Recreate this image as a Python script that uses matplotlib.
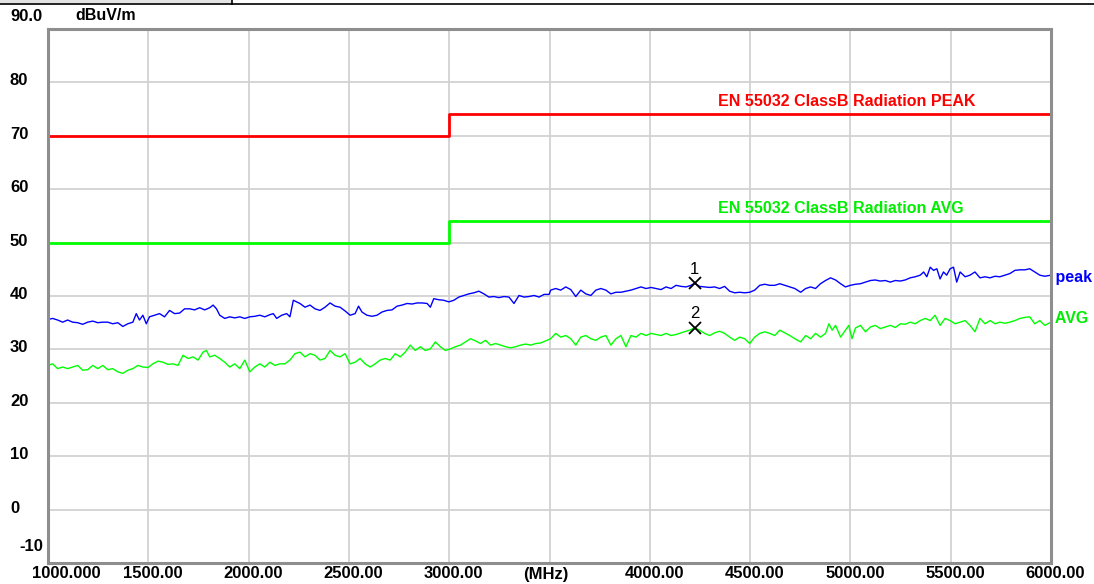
#!/usr/bin/env python3
# -*- coding:utf-8 -*-
import matplotlib
matplotlib.use("Agg")
import matplotlib.pyplot as plt
from matplotlib import transforms
from matplotlib.patches import Rectangle
from matplotlib.lines import Line2D

plt.rcParams['font.family'] = ['Liberation Sans', 'DejaVu Sans']

# 限值线 EN 55032 Class B
limit_mhz = [1000, 3000, 6000]
peak_limit = [70, 74, 74]
avg_limit = [50, 54, 54]

# peak 扫描曲线 (MHz, dBuV/m)
peak_mhz = [1000, 1023, 1048, 1073, 1098, 1123, 1148, 1173, 1198, 1223, 1248, 1273, 1298, 1323, 1348, 1373,
            1398, 1423, 1440, 1456, 1473, 1490, 1506, 1531, 1556, 1581, 1606, 1631, 1656, 1681, 1706, 1731,
            1756, 1781, 1806, 1823, 1840, 1856, 1881, 1906, 1931, 1956, 1981, 2006, 2031, 2056, 2081, 2106,
            2123, 2140, 2165, 2190, 2206, 2223,
            2256, 2281, 2306, 2331, 2356, 2381, 2406, 2431, 2456, 2481, 2506, 2531, 2548, 2565, 2590, 2615,
            2640, 2665, 2690, 2715, 2740, 2765, 2790, 2815, 2840, 2865, 2890, 2906, 2923, 2948, 2973, 2998,
            3023, 3048, 3073, 3098, 3123, 3148, 3173, 3198, 3223, 3248, 3273, 3298, 3323, 3348, 3373, 3398,
            3423, 3448, 3473, 3498,
            3506, 3531, 3556, 3581, 3606, 3631, 3656, 3681, 3706, 3731, 3756, 3781, 3806, 3831, 3856, 3881,
            3906, 3931, 3956, 3981, 4006, 4031, 4056, 4081, 4106, 4131, 4156, 4181, 4206, 4223, 4248, 4273,
            4298, 4323, 4348, 4373, 4398, 4423, 4448, 4473, 4498, 4523, 4548, 4573, 4598, 4623, 4648, 4673,
            4698, 4723,
            4752, 4777, 4802, 4826, 4851, 4876, 4901, 4926, 4951, 4975, 5000, 5025, 5050, 5075, 5100, 5124,
            5149, 5174, 5199, 5224, 5249, 5273, 5298, 5323, 5348, 5365, 5381, 5398, 5414, 5431, 5447, 5464,
            5480, 5497, 5514, 5530, 5547, 5572, 5596, 5621, 5646, 5671, 5696, 5721, 5745, 5770, 5795, 5820,
            5845, 5870, 5894, 5919, 5944, 5969, 6000]
peak_db = [35.6, 35.8, 35.5, 35.1, 35.5, 35.1, 35.0, 34.7, 35.1, 35.3, 35.0, 35.1, 35.1, 34.8, 35.0, 34.3,
           34.8, 35.1, 36.7, 35.5, 36.4, 34.8, 36.1, 36.4, 36.7, 36.1, 37.3, 36.7, 36.8, 37.6, 37.6, 37.4,
           37.8, 37.4, 37.8, 38.3, 37.6, 36.4, 35.8, 36.1, 35.9, 36.1, 35.8, 36.1, 36.2, 36.4, 36.1, 36.5,
           36.7, 35.8, 36.4, 36.7, 36.1, 39.2,
           38.6, 37.9, 38.3, 37.6, 37.3, 37.9, 38.7, 38.1, 37.9, 37.2, 36.4, 36.7, 38.1, 37.0, 36.4, 36.2,
           36.4, 37.0, 37.3, 37.4, 38.1, 38.3, 38.6, 38.5, 38.7, 38.7, 38.6, 37.9, 39.5, 39.3, 39.2, 38.9,
           39.2, 39.8, 40.1, 40.4, 40.6, 40.9, 40.4, 39.8, 39.9, 39.7, 39.9, 39.8, 38.6, 40.1, 39.8, 39.9,
           40.1, 39.8, 40.3, 40.3,
           41.1, 41.4, 41.1, 41.7, 41.2, 39.9, 41.1, 40.4, 40.1, 41.1, 41.4, 41.1, 40.4, 40.7, 40.7, 40.9,
           41.1, 41.4, 41.7, 41.4, 41.6, 41.4, 41.2, 41.7, 41.4, 42.0, 41.8, 41.7, 42.0, 42.4, 41.8, 41.7,
           41.6, 41.7, 41.4, 41.8, 40.9, 40.6, 40.7, 40.6, 40.7, 41.1, 42.0, 42.2, 42.0, 42.0, 42.3, 42.0,
           41.7, 41.4,
           40.7, 41.4, 41.7, 41.4, 42.3, 42.9, 43.4, 43.0, 42.3, 41.7, 42.0, 42.2, 42.3, 42.6, 42.9, 43.0,
           42.8, 42.9, 42.6, 42.9, 42.8, 43.0, 43.4, 43.6, 43.9, 44.5, 43.6, 45.4, 44.8, 45.1, 43.2, 44.5,
           43.9, 45.1, 45.4, 42.6, 44.5, 43.6, 43.9, 44.5, 43.4, 43.6, 43.4, 43.7, 43.6, 43.9, 44.2, 44.8,
           44.9, 44.9, 45.1, 44.5, 43.9, 43.7, 43.9]

# AVG 扫描曲线
avg_mhz = [1000, 1023, 1048, 1073, 1098, 1123, 1148, 1173, 1198, 1223, 1248, 1273, 1298, 1323, 1348, 1373,
           1398, 1423, 1448, 1473, 1498, 1523, 1548, 1573, 1598, 1623, 1648, 1673, 1698, 1723, 1748, 1773,
           1790, 1806, 1831, 1856, 1881, 1906, 1931, 1956, 1981, 2006, 2031, 2056, 2081, 2106, 2131, 2156,
           2181, 2206,
           2231, 2256, 2281, 2306, 2331, 2356, 2381, 2406, 2431, 2456, 2481, 2506, 2531, 2556, 2581, 2606,
           2631, 2656, 2681, 2706, 2731, 2756, 2781, 2806, 2831, 2856, 2881, 2906, 2931, 2956, 2981, 3006,
           3031, 3056, 3081, 3106, 3131, 3156, 3181, 3206, 3231, 3256, 3281, 3306, 3331, 3356, 3381, 3406,
           3431, 3456, 3481,
           3506, 3531, 3556, 3581, 3606, 3631, 3656, 3681, 3706, 3731, 3756, 3781, 3806, 3831, 3856, 3881,
           3906, 3931, 3956, 3981, 4006, 4031, 4056, 4081, 4106, 4131, 4156, 4181, 4206, 4223, 4248, 4273,
           4298, 4323, 4348, 4373, 4398, 4423, 4448, 4473, 4498, 4523, 4548, 4573, 4598, 4623, 4648, 4673,
           4698, 4723,
           4752, 4777, 4802, 4826, 4851, 4876, 4893, 4909, 4926, 4951, 4975, 4992, 5008, 5025, 5050, 5075,
           5100, 5124, 5149, 5174, 5199, 5224, 5249, 5273, 5298, 5323, 5348, 5373, 5398, 5422, 5447, 5472,
           5497, 5522, 5547, 5572, 5596, 5621, 5646, 5671, 5696, 5721, 5745, 5770, 5795, 5820, 5845, 5870,
           5894, 5919, 5944, 5969, 6000]
avg_db = [27.0, 27.3, 26.4, 26.7, 26.4, 26.7, 27.0, 26.1, 26.2, 27.0, 26.4, 27.0, 26.2, 26.4, 25.8, 25.5,
          26.1, 26.4, 27.0, 26.7, 26.6, 27.3, 27.8, 27.6, 27.2, 27.3, 27.0, 28.9, 28.3, 28.6, 28.0, 29.5,
          29.8, 28.6, 28.9, 28.3, 27.6, 26.7, 27.3, 26.4, 28.0, 25.8, 26.7, 27.3, 26.7, 27.6, 27.0, 27.3,
          27.3, 28.0,
          29.2, 29.5, 28.6, 29.2, 28.9, 28.0, 28.3, 29.8, 28.9, 28.6, 29.2, 27.3, 27.6, 28.3, 27.3, 26.7,
          27.3, 28.0, 28.3, 28.0, 29.2, 28.6, 29.5, 30.8, 29.8, 30.5, 29.8, 30.1, 31.4, 30.5, 29.8, 30.1,
          30.5, 30.8, 31.4, 32.0, 31.6, 31.1, 31.7, 30.8, 31.1, 30.8, 30.5, 30.3, 30.5, 30.8, 31.0, 30.8,
          31.1, 31.2, 31.6,
          32.0, 33.0, 32.3, 32.6, 32.0, 30.8, 32.3, 32.6, 32.0, 31.7, 32.3, 32.6, 30.8, 32.0, 32.6, 30.5,
          32.6, 32.3, 33.0, 32.6, 33.0, 32.8, 32.6, 33.0, 32.6, 32.8, 33.1, 33.4, 33.7, 34.1, 33.6, 33.0,
          32.6, 33.1, 33.4, 33.0, 32.3, 31.7, 32.3, 32.0, 31.1, 32.3, 33.0, 33.3, 33.0, 32.6, 33.6, 33.1,
          32.6, 32.0,
          31.4, 32.6, 32.0, 33.0, 32.3, 33.0, 34.8, 33.6, 34.5, 32.3, 33.6, 34.5, 32.0, 34.0, 34.5, 33.3,
          34.2, 34.5, 33.9, 34.2, 34.5, 34.1, 34.8, 34.7, 35.1, 34.8, 35.4, 35.8, 35.4, 36.4, 34.5, 35.8,
          35.4, 34.8, 35.1, 35.4, 34.5, 33.3, 35.8, 34.8, 35.4, 34.8, 35.1, 34.9, 35.1, 35.4, 35.8, 36.0,
          36.1, 34.8, 35.4, 34.5, 35.1]

# 标记点
marker_mhz = [4223, 4223]
marker_db = [42.4, 34.1]
marker_ids = ['1', '2']

x_ticks = [1000, 1500, 2000, 2500, 3000, 3500, 4000, 4500, 5000, 5500, 6000]
x_labels = ['1000.000', '1500.00', '2000.00', '2500.00', '3000.00', '(MHz)',
            '4000.00', '4500.00', '5000.00', '5500.00', '6000.00']
y_ticks = [0, 10, 20, 30, 40, 50, 60, 70, 80]
y_labels = ['0', '10', '20', '30', '40', '50', '60', '70', '80']

W, H = 1094, 584
fig = plt.figure(figsize=(W / 100, H / 100), dpi=100, facecolor='white')
ax = fig.add_axes([48 / W, 1 - 563 / H, (1051 - 48) / W, (563 - 29) / H])
ax.set_xlim(1000, 6000)
ax.set_ylim(-10, 90)

# 网格
ax.set_xticks(x_ticks)
ax.set_yticks(y_ticks)
ax.grid(True, color='#d2d2d2', lw=1.3)
ax.tick_params(length=0, labelbottom=False, labelleft=False)
for sp in ax.spines.values():
    sp.set_color('#8e8e8e')
    sp.set_linewidth(2.2)

# 限值线
ax.step(limit_mhz, peak_limit, where='post', color='#ff0000', lw=2.0)
ax.step(limit_mhz, avg_limit, where='post', color='#00ff00', lw=2.0)
bold = dict(fontsize=11.5, fontweight='bold', ha='left', va='center')
ax.text(4340, 76.4, 'EN 55032 ClassB Radiation PEAK', color='#ff0000', **bold)
ax.text(4340, 56.4, 'EN 55032 ClassB Radiation AVG', color='#00ee00', **bold)

# 曲线
ax.plot(peak_mhz, peak_db, color='#0000ff', lw=1.0)
ax.plot(avg_mhz, avg_db, color='#00ff00', lw=1.0)
ax.text(6000, 43.4, ' peak', color='#0000ff', clip_on=False, **bold)
ax.text(6000, 35.7, ' AVG', color='#00ee00', clip_on=False, **bold)

# 标记
ax.plot(marker_mhz, marker_db, 'x', color='black', ms=8, mew=1.3)
for mx, my, mid in zip(marker_mhz, marker_db, marker_ids):
    ax.annotate(mid, (mx, my), xytext=(0, 14), textcoords='offset pixels',
                ha='center', va='center', fontsize=12, color='black')

# x 轴标签
xt = transforms.blended_transform_factory(ax.transData, ax.transAxes)
for xv, lab in zip(x_ticks, x_labels):
    dx = 4.5
    if lab == '1000.000':
        dx = 18
    elif lab == '(MHz)':
        dx = -4
    off = transforms.ScaledTranslation(dx / 100, -11 / 100, fig.dpi_scale_trans)
    ax.text(xv, 0, lab, transform=xt + off, ha='center', va='center',
            fontsize=12, fontweight='bold', clip_on=False)

# y 轴标签
yt = transforms.blended_transform_factory(fig.transFigure, ax.transData)
off = transforms.ScaledTranslation(0, 1.5 / 100, fig.dpi_scale_trans)
for yv, lab in zip(y_ticks, y_labels):
    fig.text(10 / W, yv, lab, transform=yt + off, ha='left', va='center',
             fontsize=12, fontweight='bold')
fig.text(10 / W, 1 - 16.7 / H, '90.0', ha='left', va='center', fontsize=12, fontweight='bold')
fig.text(19 / W, 1 - 546.7 / H, '-10', ha='left', va='center', fontsize=12, fontweight='bold')
fig.text(75 / W, 1 - 15 / H, 'dBuV/m', ha='left', va='center', fontsize=11.5, fontweight='bold')

# 顶部窗口边
fig.add_artist(Rectangle((0, 1 - 3.5 / H), 232 / W, 3.5 / H, transform=fig.transFigure,
                         facecolor='#e3e3e3', edgecolor='none'))
fig.add_artist(Line2D([0, 1], [1 - 4 / H, 1 - 4 / H], transform=fig.transFigure, color='black', lw=1.2))
fig.add_artist(Line2D([232 / W, 232 / W], [1 - 4 / H, 1], transform=fig.transFigure, color='black', lw=1.2))

fig.savefig('out.png', dpi=100, facecolor='white')
